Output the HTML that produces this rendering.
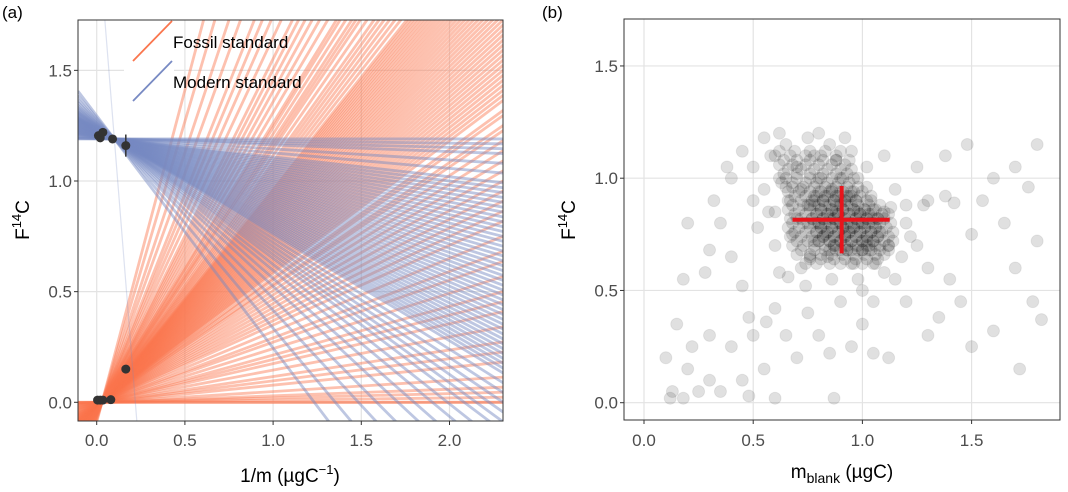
<!DOCTYPE html>
<html><head><meta charset="utf-8">
<style>
html,body{margin:0;padding:0;background:#fff;width:1068px;height:492px;overflow:hidden;}
svg{display:block;font-family:"Liberation Sans",sans-serif;}
</style></head>
<body>
<svg id="fig" width="1068" height="492" viewBox="0 0 1068 492" xmlns="http://www.w3.org/2000/svg">
<g id="pa"></g>
<g id="pb"></g>
</svg>
<script>
// ---- Panel A data ----
const fossilSlopes = [0.0,0.0,0.01,0.02,0.03,0.05,0.08,0.1,0.12,0.15,0.18,0.2,0.22,0.25,0.28,0.3,0.33,0.36,0.38,0.4,0.42,0.44,0.46,0.48,0.5,0.52,0.54,0.55,0.57,0.58,0.6,0.61,0.62,0.63,0.64,0.65,0.66,0.67,0.68,0.69,0.7,0.71,0.72,0.73,0.74,0.75,0.76,0.77,0.78,0.79,0.8,0.81,0.82,0.83,0.84,0.85,0.86,0.87,0.88,0.89,0.9,0.91,0.92,0.93,0.94,0.95,0.96,0.97,0.98,0.99,1.0,1.02,1.04,1.06,1.08,1.1,1.12,1.15,1.18,1.2,1.22,1.25,1.28,1.3,1.35,1.4,1.45,1.5,1.55,1.6,1.7,1.8,1.9,2.0,2.2,2.4,2.7,3.0];
const fossilPivot = [0.03, 0.0];
const modernSlopes = [0.0,-0.01,-0.02,-0.03,-0.05,-0.07,-0.09,-0.1,-0.11,-0.12,-0.13,-0.14,-0.15,-0.16,-0.17,-0.18,-0.19,-0.2,-0.21,-0.22,-0.23,-0.24,-0.25,-0.26,-0.27,-0.28,-0.29,-0.3,-0.31,-0.32,-0.33,-0.34,-0.35,-0.36,-0.37,-0.38,-0.39,-0.4,-0.41,-0.42,-0.43,-0.44,-0.45,-0.46,-0.47,-0.48,-0.5,-0.52,-0.54,-0.56,-0.58,-0.6,-0.63,-0.66,-0.7,-0.74,-0.8,-0.86,-0.95,-1.05,-10];
const modernPivot = [0.1, 1.19];
const modernPts = [[0.01,1.205],[0.02,1.195],[0.035,1.22],[0.09,1.19],[0.165,1.16]];
const modernErr = [0,0,0,0,0.05];
const fossilPts = [[0.005,0.01],[0.02,0.01],[0.035,0.01],[0.08,0.012],[0.165,0.15]];
const aXTicks = [0.0,0.5,1.0,1.5,2.0];
const aYTicks = [0.0,0.5,1.0,1.5];
// ---- Panel B data ----
const bPts = ["0.9,0.8","0.85,0.82","0.95,0.78","0.88,0.85","0.92,0.75","0.8,0.8","1.0,0.8","0.98,0.85","0.83,0.75","0.9,0.9","0.87,0.7","1.02,0.72","0.75,0.88","0.78,0.72","0.95,0.92","1.05,0.82","0.7,0.82","0.93,0.68","0.86,0.95","1.0,0.68","0.72,0.95","0.8,1.0","0.96,0.62","1.08,0.76","0.68,0.75","0.84,0.65","0.76,0.65","1.04,0.9","0.9,1.0","0.66,0.9","1.1,0.85","0.6,0.85","0.62,1.0","0.7,1.05","0.78,1.1","0.88,1.08","0.98,1.0","1.12,0.7","1.06,0.62","0.72,0.6","0.6,0.7","0.55,0.95","0.58,1.1","0.65,1.15","0.75,1.18","0.85,1.15","0.95,1.12","1.02,1.05","1.15,0.95","1.2,0.8","1.18,0.65","1.1,0.58","0.98,0.55","0.86,0.55","0.74,0.52","0.62,0.58","0.52,0.78","0.5,1.05","0.55,1.18","0.62,1.2","0.8,1.2","0.92,1.18","1.1,1.1","1.25,1.05","1.3,0.9","1.38,0.92","1.42,0.89","1.28,0.88","1.13,0.87","0.65,0.96","0.57,0.85","1.25,0.7","1.3,0.6","1.4,0.55","1.5,0.75","1.55,0.9","1.6,1.0","1.7,1.05","1.76,0.96","1.8,1.15","1.65,0.8","1.7,0.6","1.8,0.72","1.45,0.45","1.35,0.38","1.2,0.45","1.05,0.45","0.9,0.45","0.75,0.4","0.6,0.42","0.48,0.38","0.45,0.52","0.4,0.65","0.35,0.8","0.3,0.68","0.28,0.58","0.32,0.9","0.4,1.0","0.45,1.12","0.38,1.05","0.2,0.8","0.18,0.55","0.15,0.35","0.22,0.25","0.3,0.3","0.4,0.25","0.5,0.3","0.56,0.36","0.65,0.3","0.8,0.3","0.95,0.25","1.05,0.22","1.12,0.2","0.85,0.22","0.7,0.2","0.55,0.15","0.45,0.1","0.35,0.05","0.25,0.05","0.12,0.02","0.13,0.05","0.18,0.02","0.3,0.1","0.48,0.03","0.6,0.02","0.87,0.02","0.1,0.2","0.2,0.15","1.5,0.25","1.72,0.15","1.82,0.37","1.6,0.32","1.3,0.3","1.0,0.35","1.48,1.15","1.38,1.1","1.78,0.45","0.5,0.9","0.66,0.56","1.0,0.5","1.15,0.55","1.22,0.74","1.2,0.88"];
// dense core of posterior samples, one row per F14C level
const bCoreY = [0.62,0.66,0.70,0.74,0.78,0.82,0.86,0.90,0.94,0.98,1.02,1.06,1.10,0.72,0.76,0.80,0.84,0.88,0.68,0.92];
const bCoreX = [
 [0.74,0.79,0.85,0.9,0.95,1.0,1.05],
 [0.7,0.76,0.81,0.86,0.91,0.96,1.01,1.06,1.1],
 [0.68,0.73,0.78,0.83,0.88,0.93,0.98,1.03,1.08,1.12],
 [0.67,0.72,0.77,0.82,0.87,0.92,0.97,1.02,1.07,1.12],
 [0.66,0.71,0.76,0.81,0.86,0.91,0.96,1.01,1.06,1.11],
 [0.67,0.72,0.77,0.82,0.87,0.92,0.97,1.02,1.07,1.1],
 [0.66,0.71,0.76,0.81,0.86,0.91,0.96,1.01,1.06],
 [0.67,0.72,0.77,0.82,0.87,0.92,0.97,1.02],
 [0.66,0.71,0.76,0.81,0.86,0.91,0.96,1.0],
 [0.63,0.68,0.74,0.79,0.84,0.89,0.94],
 [0.64,0.7,0.76,0.82,0.88,0.93],
 [0.62,0.68,0.74,0.8,0.86,0.92],
 [0.6,0.67,0.74,0.81,0.88],
 [0.8,0.85,0.9,0.95,1.0,1.05],
 [0.79,0.84,0.89,0.94,0.99,1.04],
 [0.75,0.8,0.85,0.9,0.95,1.0,1.05],
 [0.79,0.84,0.89,0.94,0.99,1.03],
 [0.76,0.8,0.85,0.9,0.95],
 [0.85,0.9,0.95,1.0,1.04],
 [0.78,0.83,0.88,0.93]
];
const bXTicks = [0.0,0.5,1.0,1.5];
const bYTicks = [0.0,0.5,1.0,1.5];
const bCenter = [0.905, 0.815];
const bSpanX = [0.68, 1.125];
const bSpanY = [0.665, 0.965];

const NS = "http://www.w3.org/2000/svg";
function mk(parent, tag, attrs, text){
  const e = document.createElementNS(NS, tag);
  for (const k in attrs) e.setAttribute(k, attrs[k]);
  if (text !== undefined) e.textContent = text;
  parent.appendChild(e); return e;
}
function fmt(v){ return v.toFixed(1); }

// ---------- Panel A ----------
const pa = document.getElementById('pa');
const A = {x0:78, x1:503, y0:20, y1:421};
const ax = v => 96.7 + (v - 0) * 176.4;
const ay = v => 402.3 - v * 221.3;
const axMin = -0.106, axMax = 2.31;
const clipA = mk(pa,'clipPath',{id:'clipA'});
mk(clipA,'rect',{x:A.x0,y:A.y0,width:A.x1-A.x0,height:A.y1-A.y0});
const gridA = mk(pa,'g',{});


aXTicks.forEach(t=>{ mk(gridA,'line',{x1:ax(t),x2:ax(t),y1:A.y0,y2:A.y1,stroke:'#e3e3e3','stroke-width':1.2}); });
aYTicks.forEach(t=>{ mk(gridA,'line',{x1:A.x0,x2:A.x1,y1:ay(t),y2:ay(t),stroke:'#e3e3e3','stroke-width':1.2}); });
const linesA = mk(pa,'g',{'clip-path':'url(#clipA)'});
fossilSlopes.forEach(s=>{
  const l = mk(linesA,'line',{x1:ax(axMin),y1:ay(fossilPivot[1]+s*(axMin-fossilPivot[0])),x2:ax(axMax),y2:ay(fossilPivot[1]+s*(axMax-fossilPivot[0])),stroke:'rgb(250,118,78)','stroke-opacity':0.45,'stroke-width':2.8});
  
  
});
modernSlopes.forEach(s=>{
  const steep = Math.abs(s) > 3;
  const l = mk(linesA,'line',{x1:ax(axMin),y1:ay(modernPivot[1]+s*(axMin-modernPivot[0])),x2:ax(axMax),y2:ay(modernPivot[1]+s*(axMax-modernPivot[0])),stroke:'rgb(120,138,195)','stroke-opacity':steep?0.25:0.48,'stroke-width':steep?1.2:2.8});
  
  
});
modernPts.forEach((p,i)=>{
  if (modernErr[i]>0){
    const e = mk(pa,'line',{x1:ax(p[0]),x2:ax(p[0]),y1:ay(p[1]-modernErr[i]),y2:ay(p[1]+modernErr[i]),stroke:'#333','stroke-width':1.5});
    
    
  }
  const c = mk(pa,'circle',{cx:ax(p[0]),cy:ay(p[1]),r:4.5,fill:'#333'});
  
  
});
fossilPts.forEach(p=>{
  const c = mk(pa,'circle',{cx:ax(p[0]),cy:ay(p[1]),r:4.5,fill:'#333'});
  
  
});
const boxA = mk(pa,'rect',{x:A.x0,y:A.y0,width:A.x1-A.x0,height:A.y1-A.y0,fill:'none',stroke:'#333','stroke-width':1});


aXTicks.forEach(t=>{
  mk(pa,'line',{x1:ax(t),x2:ax(t),y1:A.y1,y2:A.y1+4,stroke:'#333'});
  const tx = mk(pa,'text',{x:ax(t),y:446,'text-anchor':'middle','font-size':17,fill:'#4d4d4d'},fmt(t));
  
  
});
aYTicks.forEach(t=>{
  mk(pa,'line',{x1:A.x0-4,x2:A.x0,y1:ay(t),y2:ay(t),stroke:'#333'});
  const tx = mk(pa,'text',{x:72,y:ay(t)+6,'text-anchor':'end','font-size':17,fill:'#4d4d4d'},fmt(t));
  
  
});
// legend
const lg = mk(pa,'g',{});


mk(lg,'rect',{x:124,y:21,width:50,height:84,fill:'#fff'});
mk(lg,'line',{x1:133,y1:61,x2:172,y2:21,stroke:'rgb(250,118,78)','stroke-width':1.8});
mk(lg,'line',{x1:133,y1:101,x2:172,y2:61,stroke:'rgb(120,138,195)','stroke-width':1.8});
const lt1 = mk(lg,'text',{x:173,y:48,'font-size':17,fill:'#000'},'Fossil standard');


const lt2 = mk(lg,'text',{x:173,y:88,'font-size':17,fill:'#000'},'Modern standard');


</script>
<script>
(function(){
const pa = document.getElementById('pa');
pa.insertAdjacentHTML('beforeend',
 '<text x="2" y="18" font-size="17">(a)</text>'+
 '<text x="290" y="482" text-anchor="middle" font-size="19">1/m (µgC<tspan dy="-8" font-size="13">−1</tspan><tspan dy="8">)</tspan></text>'+
 '<text transform="translate(29,220) rotate(-90)" text-anchor="middle" font-size="19">F<tspan dy="-8" font-size="13">14</tspan><tspan dy="8">C</tspan></text>');
// ---------- Panel B ----------
const pb = document.getElementById('pb');
const B = {x0:624, x1:1060, y0:19, y1:420};
const bx = v => 644 + v * 218.4;
const by = v => 402.7 - v * 224.5;
bXTicks.forEach(t=>{ mk(pb,'line',{x1:bx(t),x2:bx(t),y1:B.y0,y2:B.y1,stroke:'#e3e3e3','stroke-width':1.2}); });
bYTicks.forEach(t=>{ mk(pb,'line',{x1:B.x0,x2:B.x1,y1:by(t),y2:by(t),stroke:'#e3e3e3','stroke-width':1.2}); });
function pt(x,y){
  const c = mk(pb,'circle',{cx:bx(x),cy:by(y),r:6,fill:'#000','fill-opacity':0.12,stroke:'#000','stroke-opacity':0.07});
  
  
}
bPts.forEach(s=>{ const [x,y] = s.split(',').map(Number); pt(x,y); });
bCoreY.forEach((y,i)=>{ bCoreX[i].forEach(x=>pt(x,y)); bCoreX[i].forEach(x=>pt(x+0.02,y+0.02)); });
const cx1 = mk(pb,'line',{x1:bx(bSpanX[0]),x2:bx(bSpanX[1]),y1:by(bCenter[1]),y2:by(bCenter[1]),stroke:'#e8141b','stroke-width':4});


const cx2 = mk(pb,'line',{x1:bx(bCenter[0]),x2:bx(bCenter[0]),y1:by(bSpanY[0]),y2:by(bSpanY[1]),stroke:'#e8141b','stroke-width':4});


const boxB = mk(pb,'rect',{x:B.x0,y:B.y0,width:B.x1-B.x0,height:B.y1-B.y0,fill:'none',stroke:'#333','stroke-width':1});


bXTicks.forEach(t=>{
  mk(pb,'line',{x1:bx(t),x2:bx(t),y1:B.y1,y2:B.y1+4,stroke:'#333'});
  const tx = mk(pb,'text',{x:bx(t),y:446,'text-anchor':'middle','font-size':17,fill:'#4d4d4d'},fmt(t));
  
  
});
bYTicks.forEach(t=>{
  mk(pb,'line',{x1:B.x0-4,x2:B.x0,y1:by(t),y2:by(t),stroke:'#333'});
  const tx = mk(pb,'text',{x:618,y:by(t)+6,'text-anchor':'end','font-size':17,fill:'#4d4d4d'},fmt(t));
  
  
});
pb.insertAdjacentHTML('beforeend',
 '<text x="542" y="18" font-size="17">(b)</text>'+
 '<text x="842" y="478" text-anchor="middle" font-size="19">m<tspan dy="5" font-size="14">blank</tspan><tspan dy="-5"> (µgC)</tspan></text>'+
 '<text transform="translate(575,220) rotate(-90)" text-anchor="middle" font-size="19">F<tspan dy="-8" font-size="13">14</tspan><tspan dy="8">C</tspan></text>');
})();
</script>
</body></html>
